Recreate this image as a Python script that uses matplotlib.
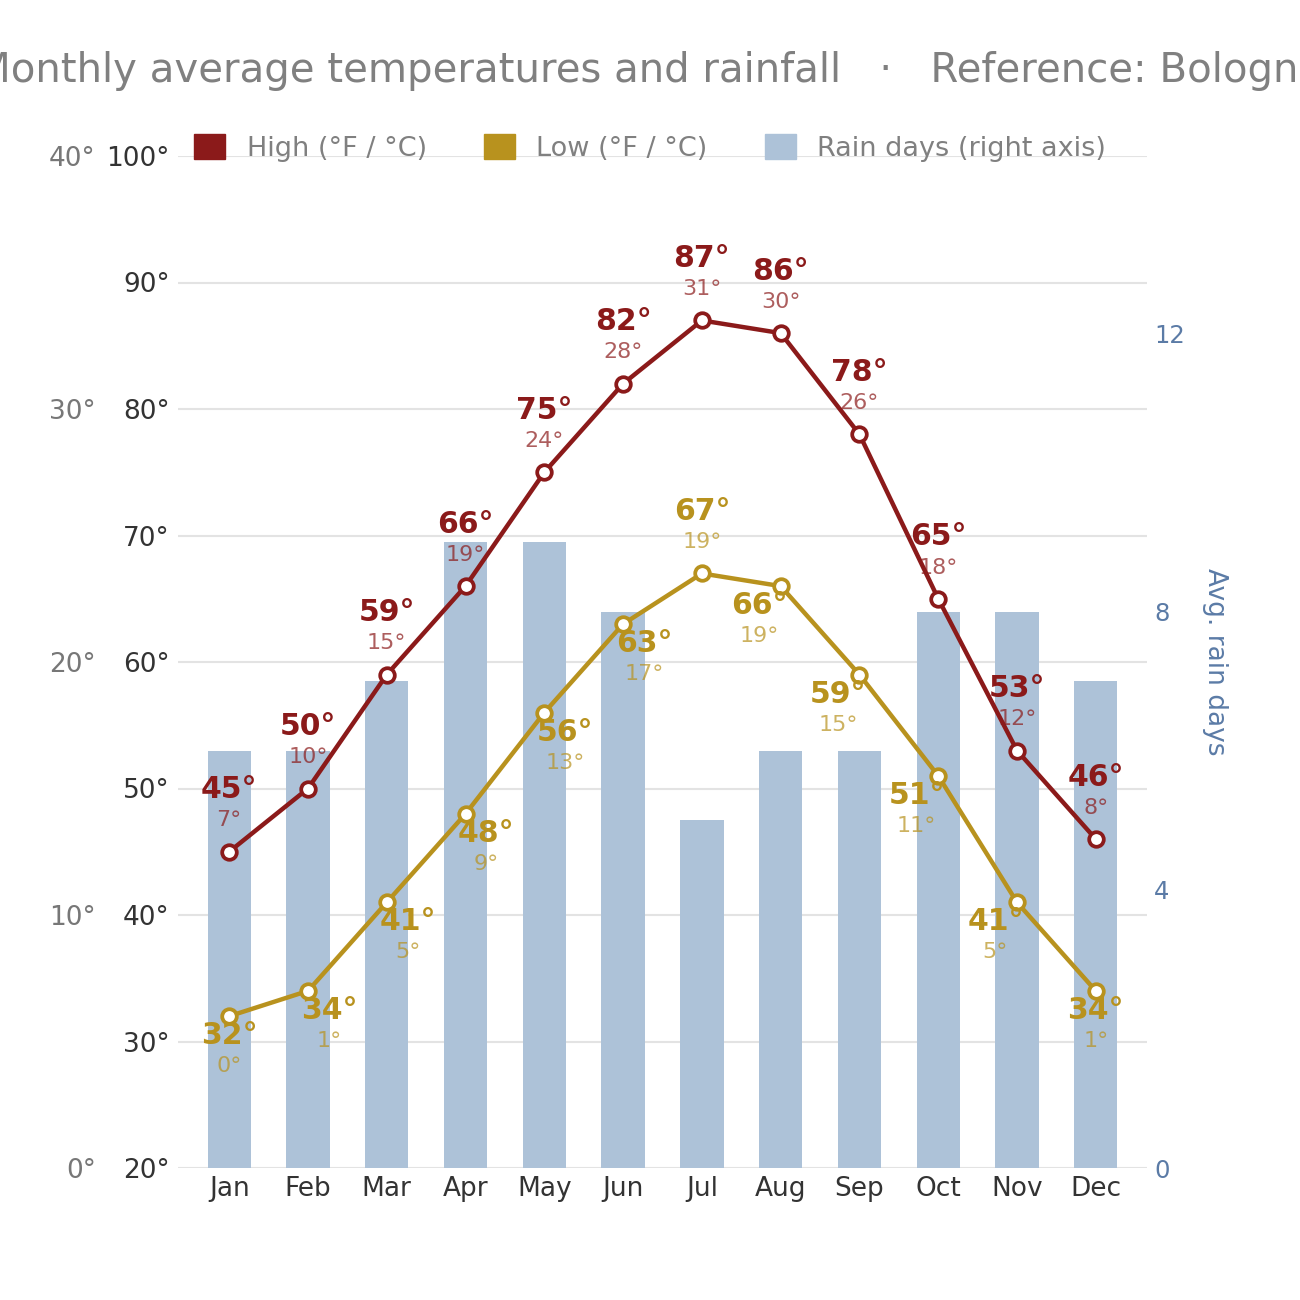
import numpy as np
import matplotlib.pyplot as plt
from matplotlib.patches import Patch

months = ["Jan", "Feb", "Mar", "Apr", "May", "Jun", "Jul", "Aug", "Sep", "Oct", "Nov", "Dec"]
high_f = [45, 50, 59, 66, 75, 82, 87, 86, 78, 65, 53, 46]
high_c = [7, 10, 15, 19, 24, 28, 31, 30, 26, 18, 12, 8]
low_f = [32, 34, 41, 48, 56, 63, 67, 66, 59, 51, 41, 34]
low_c = [0, 1, 5, 9, 13, 17, 19, 19, 15, 11, 5, 1]
rain_days = [6, 6, 7, 9, 9, 8, 5, 6, 6, 8, 8, 7]

f_ticks = [20, 30, 40, 50, 60, 70, 80, 90, 100]
c_ticks = [0, 10, 20, 30, 40]
rain_ticks = [0, 4, 8, 12]

HIGH = "#8b1a1a"
LOW = "#b8921e"
BAR = "#adc2d8"
RAIN = "#5b7ba6"

x = np.arange(len(months))

fig = plt.figure(figsize=(13, 13), dpi=100)
pos = [178 / 1300, 132 / 1300, 969 / 1300, 1012 / 1300]
ax = fig.add_axes(pos)
ax_r = ax.twinx()
ax_t = fig.add_axes(pos, sharex=ax, sharey=ax)

# base axis: grid + °F ticks
ax.set_xlim(-0.65, len(months) - 0.35)
ax.set_ylim(20, 100)
ax.set_yticks(f_ticks)
ax.set_yticklabels([f"{v}°" for v in f_ticks])
ax.set_xticks(x)
ax.set_xticklabels(months)
ax.tick_params(axis="both", length=0, labelsize=19, colors="#333333")
ax.tick_params(axis="y", pad=6)
ax.tick_params(axis="x", pad=6)
ax.grid(axis="y", color="#e3e3e3", linewidth=1.5)
ax.set_axisbelow(True)
for s in ax.spines.values():
    s.set_visible(False)

# °C scale on the far left (linear 0..40 over 20..100 °F)
sec = ax.secondary_yaxis(-0.085, functions=(lambda f: (f - 20) / 2, lambda c: c * 2 + 20))
sec.set_yticks(c_ticks)
sec.set_yticklabels([f"{v}°" for v in c_ticks])
sec.tick_params(length=0, labelsize=19, colors="#777777", pad=0)
for s in sec.spines.values():
    s.set_visible(False)

# rain bars on right axis
ax_r.bar(x, rain_days, width=0.55, color=BAR, zorder=1)
ax_r.set_ylim(0, 14.56)
ax_r.set_yticks(rain_ticks)
ax_r.tick_params(axis="y", length=0, labelsize=17.5, colors=RAIN, pad=5)
ax_r.set_ylabel("Avg. rain days", color=RAIN, fontsize=19, rotation=270, va="center")
ax_r.yaxis.set_label_coords(1.07, 0.5)
for s in ax_r.spines.values():
    s.set_visible(False)

# temperature lines on top
ax_t.axis("off")
ax_t.patch.set_visible(False)
for vals, col in [(high_f, HIGH), (low_f, LOW)]:
    ax_t.plot(x, vals, color=col, linewidth=3.2, marker="o", markersize=10.5,
              markerfacecolor="white", markeredgecolor=col, markeredgewidth=2.7, zorder=3)

for i in range(len(months)):
    ax_t.annotate(f"{high_f[i]}°", (x[i], high_f[i]), xytext=(0, 44.5), textcoords="offset points",
                  ha="center", va="center", fontsize=21.5, fontweight="bold", color=HIGH)
    ax_t.annotate(f"{high_c[i]}°", (x[i], high_f[i]), xytext=(0, 22.5),
                  textcoords="offset points", ha="center", va="center", fontsize=16,
                  color=HIGH, alpha=0.7)

peak = int(np.argmax(low_f))
for i in range(len(months)):
    if i == peak:
        dx, dy1, dy2 = 0, 44.5, 22.5
    else:
        if i == 0 or i == len(months) - 1:
            dx = 0
        elif i < peak:
            dx = 15
        else:
            dx = -15.5
        dy1, dy2 = -14, -36
    ax_t.annotate(f"{low_f[i]}°", (x[i], low_f[i]), xytext=(dx, dy1), textcoords="offset points",
                  ha="center", va="center", fontsize=21.5, fontweight="bold", color=LOW)
    ax_t.annotate(f"{low_c[i]}°", (x[i], low_f[i]), xytext=(dx, dy2), textcoords="offset points",
                  ha="center", va="center", fontsize=16, color=LOW, alpha=0.7)

handles = [Patch(color=HIGH), Patch(color=LOW), Patch(color=BAR)]
fig.legend(handles, ["High (°F / °C)", "Low (°F / °C)", "Rain days (right axis)"],
           loc="center", bbox_to_anchor=(0.5, 1 - 148 / 1300), ncol=3, frameon=False,
           fontsize=19.5, labelcolor="#808080", handlelength=1.15, handleheight=1.0,
           handletextpad=0.8, columnspacing=2.1)

fig.text(0.5, 1 - 71 / 1300, "Monthly average temperatures and rainfall   ·   Reference: Bologna",
         ha="center", va="center", fontsize=29, color="#808080")

fig.savefig("out.png", dpi=100)
